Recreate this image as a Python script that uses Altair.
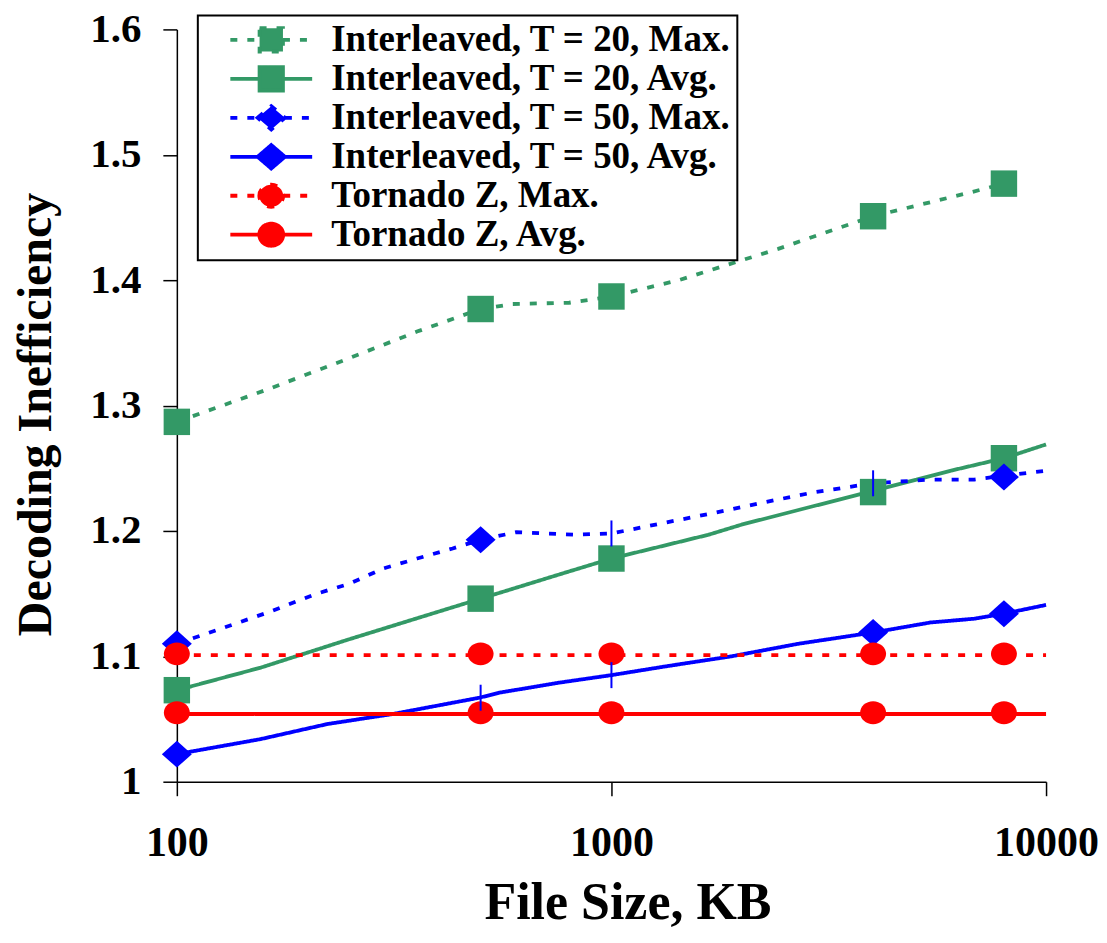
import altair as alt
import pandas as pd

# ---------------- data ----------------
SERIES = [
    "Interleaved, T = 20, Max.",
    "Interleaved, T = 20, Avg.",
    "Interleaved, T = 50, Max.",
    "Interleaved, T = 50, Avg.",
    "Tornado Z, Max.",
    "Tornado Z, Avg.",
]
COLORS = ["#339966", "#339966", "#0000FF", "#0000FF", "#FF0000", "#FF0000"]
DASHES = [[7, 10], [1, 0], [7, 10], [1, 0], [7, 10], [1, 0]]

# marker positions (file size in KB)
MARK_X = [100, 500, 1000, 4000, 8000]
t20_max_mark = [1.287, 1.377, 1.387, 1.451, 1.477]
t20_avg_mark = [1.073, 1.146, 1.178, 1.231, 1.258]
t50_max_mark = [1.110, 1.193, 1.198, 1.238, 1.243]
t50_avg_mark = [1.022, 1.067, 1.085, 1.119, 1.134]
tz_max_mark = [1.102, 1.102, 1.102, 1.102, 1.102]
tz_avg_mark = [1.055, 1.055, 1.055, 1.055, 1.055]
t20_kind = ["square"] * 5
t50_max_kind = ["diamond", "diamond", "plus", "plus", "diamond"]
t50_avg_kind = ["diamond", "plus", "plus", "diamond", "diamond"]
tz_kind = ["circle"] * 5

# line traces
t20_max_lx = [100, 162, 246, 357, 500, 592, 799, 1000, 1428, 2419, 4000, 6699, 8000]
t20_max_ly = [1.287, 1.313, 1.337, 1.359, 1.377, 1.381, 1.382, 1.387, 1.400, 1.425, 1.451, 1.470, 1.477]
t20_avg_lx = [100, 156, 246, 362, 500, 770, 1000, 1673, 1991, 4000, 6026, 8000, 10000]
t20_avg_ly = [1.073, 1.091, 1.113, 1.131, 1.146, 1.166, 1.178, 1.197, 1.205, 1.232, 1.248, 1.258, 1.269]
t50_max_lx = [100, 162, 210, 250, 298, 357, 431, 500, 604, 829, 1000, 1699, 2259, 2941, 4000, 5423, 6840, 8000, 10000]
t50_max_ly = [1.110, 1.135, 1.150, 1.158, 1.170, 1.178, 1.186, 1.193, 1.199, 1.197, 1.198, 1.214, 1.223, 1.231, 1.238, 1.241, 1.241, 1.244, 1.248]
t50_avg_lx = [100, 156, 222, 314, 497, 552, 758, 1000, 1333, 1888, 2689, 4000, 5423, 6840, 8000, 10000]
t50_avg_ly = [1.022, 1.034, 1.046, 1.054, 1.067, 1.071, 1.079, 1.085, 1.092, 1.100, 1.110, 1.119, 1.127, 1.130, 1.134, 1.141]
tz_max_lx = [100, 500, 1000, 4000, 8000, 10000]
tz_max_ly = [1.101, 1.101, 1.101, 1.101, 1.101, 1.101]
tz_avg_lx = [100, 500, 1000, 4000, 8000, 10000]
tz_avg_ly = [1.054, 1.054, 1.054, 1.054, 1.054, 1.054]

# ---------------- tables ----------------
line_sets = [
    (t20_max_lx, t20_max_ly), (t20_avg_lx, t20_avg_ly),
    (t50_max_lx, t50_max_ly), (t50_avg_lx, t50_avg_ly),
    (tz_max_lx, tz_max_ly), (tz_avg_lx, tz_avg_ly),
]
rows = []
for s, (xs, ys) in zip(SERIES, line_sets):
    for xv, yv in zip(xs, ys):
        rows.append({"series": s, "size_kb": xv, "value": yv})
line_df = pd.DataFrame(rows)

mark_sets = [
    (t20_max_mark, t20_kind), (t20_avg_mark, t20_kind),
    (t50_max_mark, t50_max_kind), (t50_avg_mark, t50_avg_kind),
    (tz_max_mark, tz_kind), (tz_avg_mark, tz_kind),
]
rows = []
for s, (ys, ks) in zip(SERIES, mark_sets):
    for xv, yv, kv in zip(MARK_X, ys, ks):
        rows.append({"series": s, "size_kb": xv, "value": yv, "kind": kv})
mark_df = pd.DataFrame(rows)

# ---------------- styling ----------------
FONT = "Liberation Serif"
DIAMOND = "M-1,0L0,-0.9L1,0L0,0.9Z"
ELLIPSE = "M-1,0A1,0.88,0,1,1,1,0A1,0.88,0,1,1,-1,0Z"
PLUS = "M0,-1L0,1"
LEG_SQUARE = "M-3.15,0H-0.9M0.9,0H3.15M-0.9,-0.9H0.9V0.9H-0.9Z"
LEG_DIAMOND = "M-3.15,0H-1.05M1.05,0H3.15M-1.05,0L0,-0.9L1.05,0L0,0.9Z"
LEG_CIRCLE = "M-3.15,0H-0.92M0.92,0H3.15M-0.92,0A0.92,0.85,0,1,1,0.92,0A0.92,0.85,0,1,1,-0.92,0Z"
LEG_SHAPES = [LEG_SQUARE, LEG_SQUARE, LEG_DIAMOND, LEG_DIAMOND, LEG_CIRCLE, LEG_CIRCLE]


def cscale():
    return alt.Scale(domain=SERIES, range=COLORS)


def dscale():
    return alt.Scale(domain=SERIES, range=DASHES)


x_enc = alt.X(
    "size_kb:Q",
    scale=alt.Scale(type="log", domain=[100, 10000]),
    axis=alt.Axis(
        values=[100, 1000, 10000], format="d", title="File Size, KB",
        labelPadding=27, labelFontSize=42, labelFlush=False,
        titlePadding=14, titleX=451, titleFontSize=52,
    ),
)
y_enc = alt.Y(
    "value:Q",
    scale=alt.Scale(domain=[1, 1.6]),
    axis=alt.Axis(
        values=[1, 1.1, 1.2, 1.3, 1.4, 1.5, 1.6], format="~g",
        title="Decoding Inefficiency", labelPadding=22, labelFontSize=41,
        titleX=-116, titleY=385,
    ),
)

lines = alt.Chart(line_df).mark_line(strokeWidth=3.8, strokeCap="butt").encode(
    x=x_enc, y=y_enc,
    color=alt.Color("series:N", scale=cscale(), legend=None),
    strokeDash=alt.StrokeDash("series:N", scale=dscale(), legend=None),
)


def marker_layer(kind, shape, size, filled, stroke_width=0):
    props = dict(shape=shape, size=size, filled=filled, opacity=1)
    if not filled:
        props["strokeWidth"] = stroke_width
    return alt.Chart(mark_df).transform_filter(
        alt.datum.kind == kind
    ).mark_point(**props).encode(
        x=x_enc, y=y_enc,
        color=alt.Color("series:N", scale=cscale(), legend=None),
    )


squares = marker_layer("square", "square", 700, True)
diamonds = marker_layer("diamond", DIAMOND, 900, True)
circles = marker_layer("circle", ELLIPSE, 676, True)
pluses = marker_layer("plus", PLUS, 676, False, 2)

leg = alt.Legend(title=None)
legend_layer = alt.Chart(mark_df).transform_filter("false").mark_point(
    filled=True, size=676, opacity=1, strokeWidth=3.8
).encode(
    x=x_enc, y=y_enc,
    color=alt.Color("series:N", scale=cscale(), legend=leg),
    stroke=alt.Stroke("series:N", scale=cscale(), legend=leg),
    shape=alt.Shape("series:N", scale=alt.Scale(domain=SERIES, range=LEG_SHAPES), legend=leg),
    strokeDash=alt.StrokeDash("series:N", scale=dscale(), legend=leg),
)

chart = alt.layer(lines, squares, diamonds, circles, pluses, legend_layer).resolve_scale(
    color="independent", strokeDash="independent", shape="independent", stroke="independent"
).properties(
    width=870, height=753,
    padding={"left": 5, "top": 0, "right": 0, "bottom": 5},
).configure_view(stroke=None).configure_axis(
    grid=False,
    domainColor="black", domainWidth=1.5,
    tickColor="black", tickWidth=1.5, tickSize=14,
    labelFont=FONT, labelFontSize=40, labelFontWeight="bold", labelColor="black",
    titleFont=FONT, titleFontSize=48, titleFontWeight="bold", titleColor="black",
).configure_legend(
    orient="none", legendX=21, legendY=-14,
    strokeColor="black", strokeWidth=2, fillColor="white", padding=6,
    labelFont=FONT, labelFontSize=37, labelFontWeight="bold", labelColor="black",
    labelLimit=0, symbolLimit=0, rowPadding=0,
    symbolSize=676, symbolStrokeWidth=3.8,
    symbolOffset=49, labelOffset=41.5,
)

chart.save("out.html", embed_options={"renderer": "svg", "actions": False})
